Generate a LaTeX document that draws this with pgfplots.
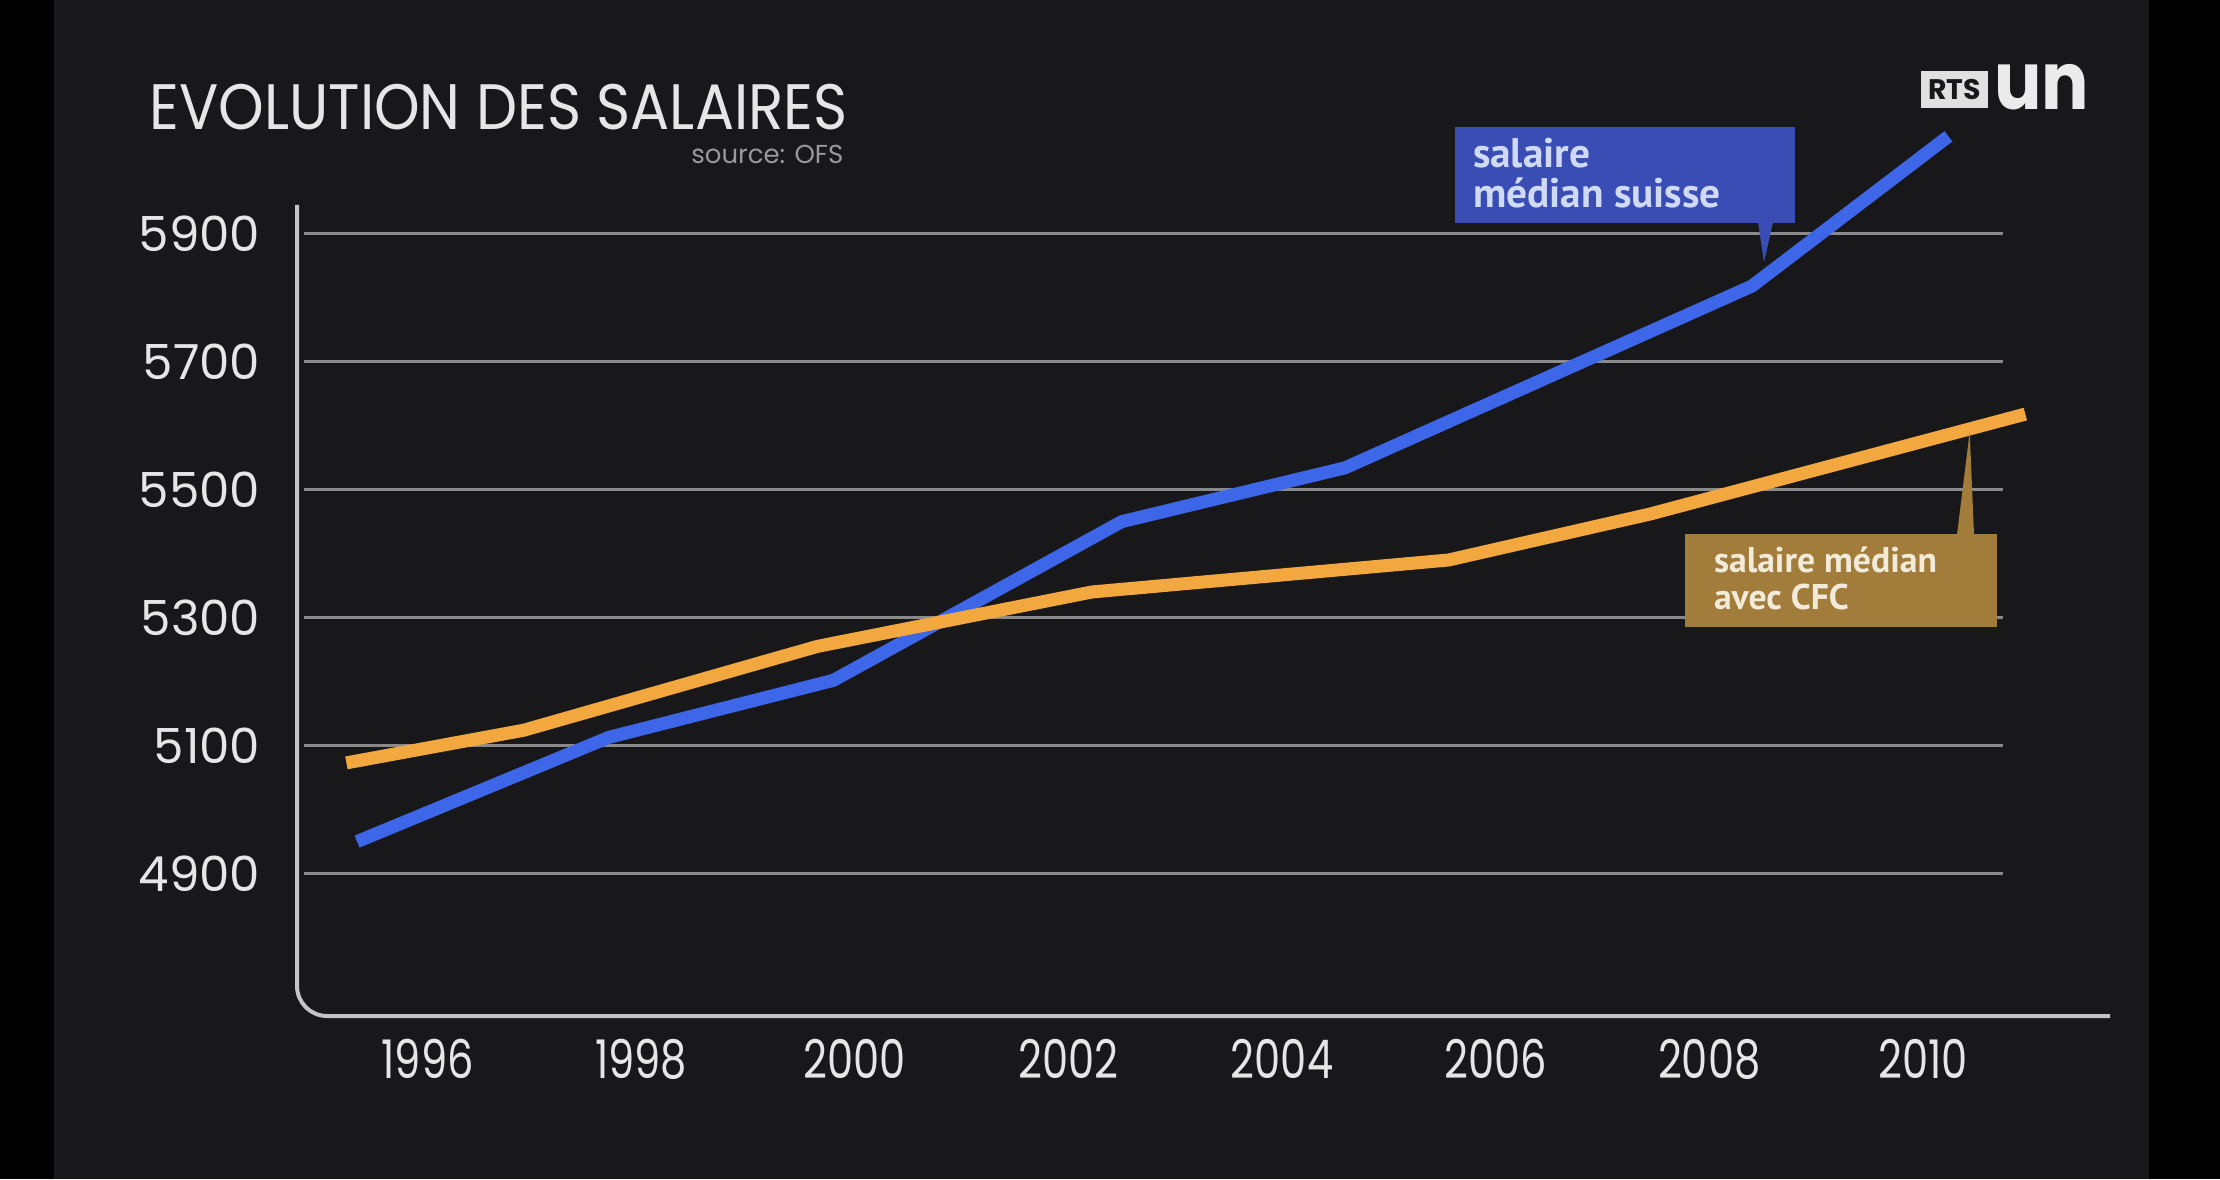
\documentclass[border=0pt]{standalone}
\usepackage{pgfplots}
\pgfplotsset{compat=1.18}
\usepackage{pgfplotstable}
\usepackage{fontspec}
\setmainfont{Poppins}
\newfontfamily\labfont{PT Sans}
\newfontfamily\xfont[FakeStretch=0.78]{Poppins}
\definecolor{bgc}{HTML}{18181A}
\definecolor{bluel}{HTML}{3D66E8}
\definecolor{orl}{HTML}{F2A83E}
\definecolor{blueb}{HTML}{3A4DB4}
\definecolor{orb}{HTML}{A27C3B}
\definecolor{bluet}{HTML}{D0DAF5}
\definecolor{ort}{HTML}{F3EBDA}
\definecolor{gridc}{HTML}{8A8A8A}
\definecolor{axc}{HTML}{C4C4C4}
\definecolor{txt}{HTML}{E6E6E6}

\pgfplotstableread{
yr v
1995.34 4950
1997.70 5113
1999.80 5202
2002.50 5450
2004.59 5534
2008.40 5818
2010.24 6052
}\bluedata

\pgfplotstableread{
yr v
1995.24 5073
1996.90 5124
1999.65 5255
2002.22 5340
2005.56 5390
2007.45 5462
2010.96 5618
}\ordata

\begin{document}
\begin{tikzpicture}[x=1pt,y=1pt]
\fill[black] (0,0) rectangle (666,353.7);
\fill[bgc] (16.2,0) rectangle (644.7,353.7);
\begin{axis}[
  at={(91.2pt,48.9pt)}, anchor=south west,
  scale only axis, width=509.7pt, height=243.3pt,
  xmin=1994.843, xmax=2010.751, ymin=4677.5, ymax=5944.7,
  axis line style={draw=none},
  major tick length=0pt,
  ymajorgrids, grid style={gridc, line width=0.9pt},
  ytick={4900,5100,5300,5500,5700,5900},
  xtick={1996,1998,2000,2002,2004,2006,2008,2010},
  /pgf/number format/assume math mode=true,
  /pgf/number format/1000 sep={},
  yticklabel style={font=\fontsize{14.5}{14.5}\selectfont, text=txt, anchor=east, inner sep=0pt, xshift=-12.9pt},
  xticklabel style={font=\xfont\fontsize{16}{16}\selectfont, text=txt, anchor=center, inner sep=0pt, yshift=-12.9pt},
  clip=false,
]
\draw[axc, line width=1.2pt, rounded corners=9pt]
  (rel axis cs:-0.0041,1) -- (rel axis cs:-0.0041,0) -- (rel axis cs:1.063,0);
\addplot[bluel, line width=3.9pt, line join=round, no markers] table {\bluedata};
\addplot[orl, line width=3.9pt, line join=round, no markers] table {\ordata};
\end{axis}
% title
\node[anchor=south west, inner sep=0pt, text=txt] at (44.7,314.6)
  {\resizebox{209.4pt}{13.6pt}{\fontsize{19}{19}\selectfont EVOLUTION DES SALAIRES}};
\node[anchor=base east, inner sep=0pt, text=gray!80, font=\fontsize{7.8}{7.8}\selectfont] at (253.2,304.5) {source: OFS};
% logo
\fill[white!88!black] (576.3,321.3) rectangle (596.4,332.4);
\node[inner sep=0pt, text=bgc, font=\fontsize{8.5}{8.5}\selectfont\bfseries] at (586.35,326.85) {RTS};
\node[anchor=base west, inner sep=0pt, text=white!92!black, font=\fontsize{24}{24}\selectfont\bfseries] at (598.0,320.7) {\scalebox{0.88}[1]{un}};
% blue label
\fill[blueb] (436.5,286.8) rectangle (538.5,315.6);
\fill[blueb] (527.4,287) -- (531.9,287) -- (529.2,275.0) -- cycle;
\node[anchor=base west, inner sep=0pt, text=bluet, font=\labfont\bfseries\fontsize{12.4}{12.4}\selectfont] at (441.7,303.3) {salaire};
\node[anchor=base west, inner sep=0pt, text=bluet, font=\labfont\bfseries\fontsize{12.4}{12.4}\selectfont] at (441.7,291.3) {médian suisse};
% orange label
\fill[orb] (505.5,165.6) rectangle (599.1,193.5);
\fill[orb] (587.1,193.3) -- (592.2,193.3) -- (590.9,224.1) -- cycle;
\node[anchor=base west, inner sep=0pt, text=ort, font=\labfont\bfseries\fontsize{10.7}{10.7}\selectfont] at (514,181.8) {salaire médian};
\node[anchor=base west, inner sep=0pt, text=ort, font=\labfont\bfseries\fontsize{10.7}{10.7}\selectfont] at (514,171) {avec CFC};
\end{tikzpicture}
\end{document}
